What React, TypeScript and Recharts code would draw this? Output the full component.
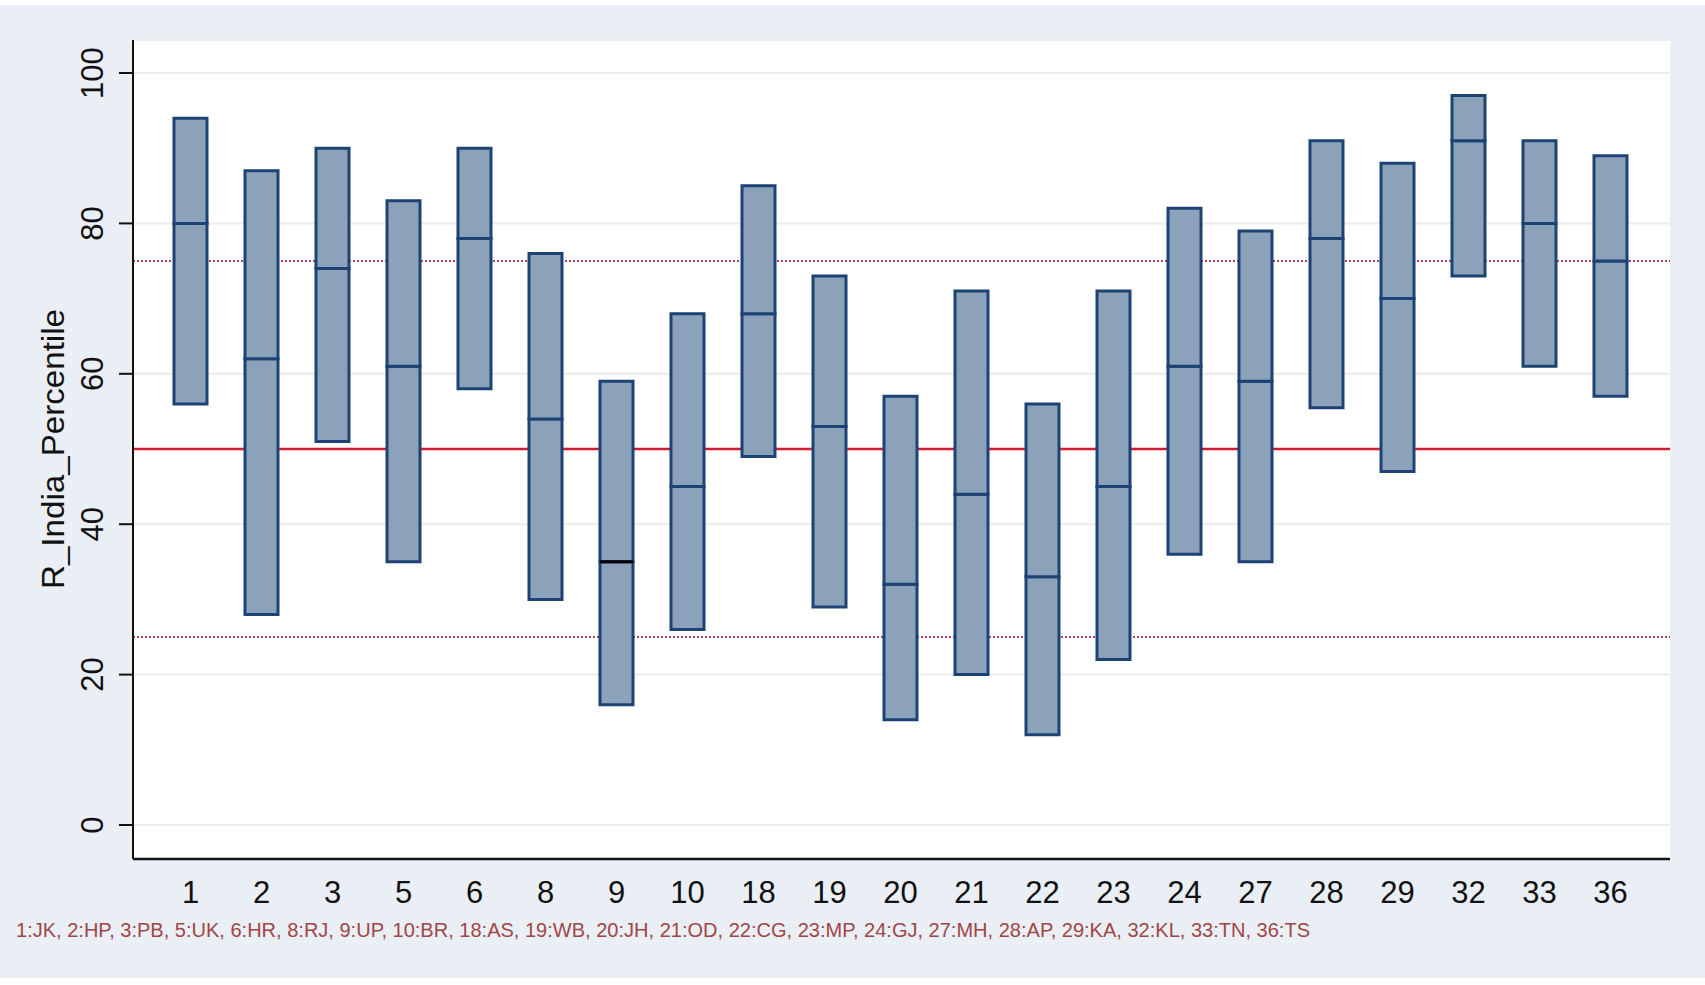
import { Bar, CartesianGrid, ComposedChart, Rectangle, XAxis, YAxis } from 'recharts'

const states = ['1', '2', '3', '5', '6', '8', '9', '10', '18', '19', '20', '21', '22', '23', '24', '27', '28', '29', '32', '33', '36']
const low = [56, 28, 51, 35, 58, 30, 16, 26, 49, 29, 14, 20, 12, 22, 36, 35, 55.5, 47, 73, 61, 57]
const median = [80, 62, 74, 61, 78, 54, 35, 45, 68, 53, 32, 44, 33, 45, 61, 59, 78, 70, 91, 80, 75]
const high = [94, 87, 90, 83, 90, 76, 59, 68, 85, 73, 57, 71, 56, 71, 82, 79, 91, 88, 97, 91, 89]
const yTicks = [0, 20, 40, 60, 80, 100]
const quartileLines = [25, 75]
const midLine = [50]
const stateNames = ['JK', 'HP', 'PB', 'UK', 'HR', 'RJ', 'UP', 'BR', 'AS', 'WB', 'JH', 'OD', 'CG', 'MP', 'GJ', 'MH', 'AP', 'KA', 'KL', 'TN', 'TS']

const FONT = '"Liberation Sans", Arial, sans-serif'
const BOX_FILL = '#8ca2bb'
const BOX_EDGE = '#1c4373'

const data = states.map((s, i) => ({
  state: s,
  base: low[i],
  lower: median[i] - low[i],
  upper: high[i] - median[i],
}))

const footnote = states.map((s, i) => `${s}:${stateNames[i]}`).join(', ')

function YTick({ x, y, payload }: any) {
  return (
    <text x={x} y={y} transform={`rotate(-90 ${x} ${y})`} textAnchor="middle" fontSize={31} fill="#111" fontFamily={FONT}>
      {payload.value}
    </text>
  )
}

// upper half of the box; state 9 has its median drawn in black
function UpperBox(props: any) {
  const { x, y, width, height, payload } = props
  return (
    <g>
      <Rectangle {...props} />
      {payload.state === '9' && (
        <line x1={x} x2={x + width} y1={y + height} y2={y + height} stroke="#000" strokeWidth={3} />
      )}
    </g>
  )
}

export default function App() {
  return (
    <div style={{ position: 'absolute', left: 0, top: 0, width: 1705, height: 985, background: '#fff' }}>
      <div style={{ position: 'absolute', left: 0, top: 5, width: 1705, height: 973, background: '#eaeff5' }} />
      <div style={{ position: 'absolute', left: 0, top: 0 }}>
        <ComposedChart
          width={1705}
          height={985}
          data={data}
          margin={{ top: 40, right: 35, left: 0, bottom: 66 }}
          barSize={33}
        >
          <CartesianGrid vertical={false} stroke="#ececef" strokeWidth={2} fill="#fff" fillOpacity={1} />
          {/* reference levels as grid lines so they sit behind the boxes */}
          <CartesianGrid vertical={false} horizontalValues={quartileLines} stroke="#b03e5e" strokeWidth={2} strokeDasharray="2 2" />
          <CartesianGrid vertical={false} horizontalValues={midLine} stroke="#d31a30" strokeWidth={2.5} />
          <XAxis
            dataKey="state"
            padding={{ left: 22, right: 24 }}
            height={60}
            axisLine={{ stroke: '#111', strokeWidth: 2.5 }}
            tickLine={false}
            tickSize={6}
            tickMargin={16}
            interval={0}
            tick={{ fontSize: 31, fill: '#111', fontFamily: FONT }}
          />
          <YAxis
            type="number"
            domain={[-4.52, 104.39]}
            allowDataOverflow
            ticks={yTicks}
            width={133}
            axisLine={{ stroke: '#111', strokeWidth: 2 }}
            tickLine={{ stroke: '#111', strokeWidth: 2 }}
            tickSize={14}
            tickMargin={16}
            tick={<YTick />}
          />
          <Bar dataKey="base" stackId="box" fill="transparent" isAnimationActive={false} />
          <Bar dataKey="lower" stackId="box" fill={BOX_FILL} stroke={BOX_EDGE} strokeWidth={3} isAnimationActive={false} />
          <Bar
            dataKey="upper"
            stackId="box"
            fill={BOX_FILL}
            stroke={BOX_EDGE}
            strokeWidth={3}
            shape={<UpperBox />}
            isAnimationActive={false}
          />
        </ComposedChart>
      </div>
      <svg width={1705} height={985} style={{ position: 'absolute', left: 0, top: 0, pointerEvents: 'none' }}>
        <text
          x={64}
          y={449}
          transform="rotate(-90 64 449)"
          textAnchor="middle"
          fontSize={32}
          fill="#111"
          fontFamily={FONT}
          textLength={280}
          lengthAdjust="spacingAndGlyphs"
        >
          R_India_Percentile
        </text>
        <text x={16} y={937} fontSize={20} fill="#a04646" fontFamily={FONT} textLength={1294} lengthAdjust="spacingAndGlyphs">
          {footnote}
        </text>
      </svg>
    </div>
  )
}
